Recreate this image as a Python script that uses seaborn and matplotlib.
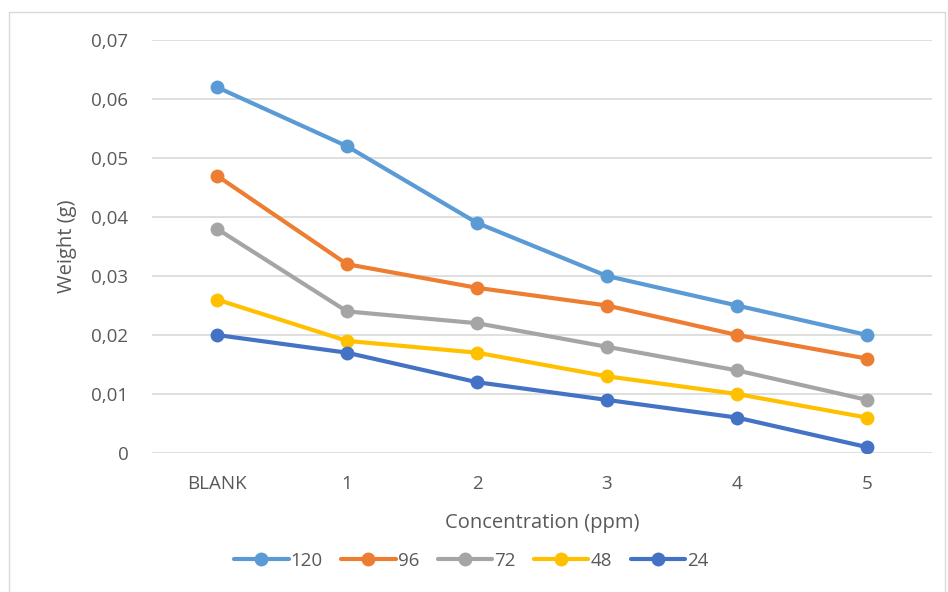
import numpy as np
import pandas as pd
import matplotlib
matplotlib.use("Agg")
import matplotlib.pyplot as plt
import seaborn as sns
from matplotlib.patches import Rectangle
from matplotlib.ticker import FuncFormatter

# data
concentrations = ["BLANK", "1", "2", "3", "4", "5"]
series_names = ["120", "96", "72", "48", "24"]
w_120 = [0.062, 0.052, 0.039, 0.030, 0.025, 0.020]
w_96 = [0.047, 0.032, 0.028, 0.025, 0.020, 0.016]
w_72 = [0.038, 0.024, 0.022, 0.018, 0.014, 0.009]
w_48 = [0.026, 0.019, 0.017, 0.013, 0.010, 0.006]
w_24 = [0.020, 0.017, 0.012, 0.009, 0.006, 0.001]
colors = ["#5B9BD5", "#ED7D31", "#A5A5A5", "#FFC000", "#4472C4"]

rows = []
for name, vals in zip(series_names, [w_120, w_96, w_72, w_48, w_24]):
    for c, v in zip(concentrations, vals):
        rows.append({"conc": c, "weight": v, "series": name})
df = pd.DataFrame(rows)

sns.set_style("white")
plt.rcParams["font.family"] = ["Open Sans", "DejaVu Sans"]
text_col = "#595959"

fig = plt.figure(figsize=(9.48, 5.92), dpi=100)
ax = fig.add_axes([152 / 948, 1 - 453 / 592, 780 / 948, 413 / 592])

sns.lineplot(data=df, x="conc", y="weight", hue="series", hue_order=series_names,
             palette=colors, marker="o", markersize=10, markeredgewidth=0,
             linewidth=3, sort=False, ax=ax)

ax.set_xlim(-0.5, 5.5)
ax.set_ylim(0, 0.07)
ax.set_yticks(np.arange(0, 0.0701, 0.01))
ax.yaxis.set_major_formatter(FuncFormatter(
    lambda v, p: "0" if abs(v) < 1e-9 else f"{v:.2f}".replace(".", ",")))
ax.grid(axis="y", color="#D9D9D9", linewidth=1.2)
ax.set_axisbelow(True)
for s in ax.spines.values():
    s.set_visible(False)
ax.tick_params(axis="both", length=0, labelsize=13.5, labelcolor=text_col)
ax.tick_params(axis="y", pad=17)
ax.tick_params(axis="x", pad=16)

ax.set_xlabel("Concentration (ppm)", fontsize=14.5, color=text_col, labelpad=14)
ax.set_ylabel("Weight (g)", fontsize=14.5, color=text_col, labelpad=10)

handles, labels = ax.get_legend_handles_labels()
ax.legend_.remove()
fig.legend(handles, labels, loc="center", bbox_to_anchor=(0.497, 1 - 561 / 592),
           ncol=5, frameon=False, fontsize=13.5, labelcolor=text_col,
           handlelength=2.9, handletextpad=0.1, columnspacing=1.0)

fig.patches.append(Rectangle((9 / 948, -0.01), 936 / 948, 1 - 12 / 592 + 0.01,
                             transform=fig.transFigure, fill=False,
                             edgecolor="#D9D9D9", linewidth=1))

fig.savefig("out.png", dpi=100)
